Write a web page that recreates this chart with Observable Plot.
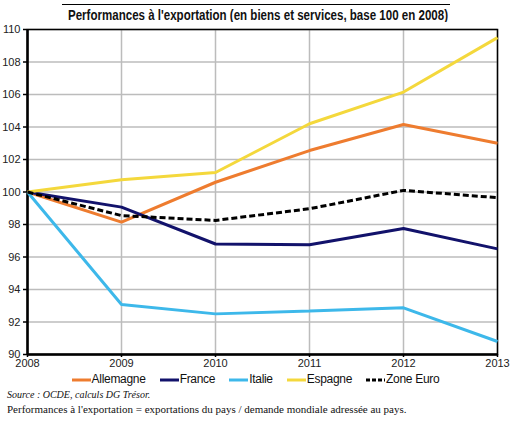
<!DOCTYPE html>
<html>
<head>
<meta charset="utf-8">
<script src="https://cdn.jsdelivr.net/npm/d3@7"></script>
<script src="https://cdn.jsdelivr.net/npm/@observablehq/plot@0.6"></script>
<style>
  html, body { margin: 0; padding: 0; background: #fff; }
  body { width: 511px; height: 427px; position: relative; overflow: hidden; font-family: "Liberation Sans", Arial, sans-serif; }
  #titlebar { position: absolute; left: 62px; top: 4px; width: 388px; height: 20px; border-top: 1px solid #000; }
  #title { position: absolute; left: 68px; top: 5px; white-space: nowrap; transform-origin: 0 0;
    font-family: "Liberation Sans", Arial, sans-serif; font-weight: bold; font-size: 14px; line-height: 20px; color: #111; }
  #chart { position: absolute; left: 0; top: 22px; }
  #legend { position: absolute; left: 0; top: 372px; width: 511px; text-align: center; font-size: 12px; color: #111; white-space: nowrap; letter-spacing: -0.3px; }
  #legend span.item { display: inline-block; margin: 0 7px; }
  #legend svg { vertical-align: middle; margin-right: 1px; }
  #source { position: absolute; left: 7px; top: 389px; font-family: "Liberation Serif", serif; font-style: italic; font-size: 10px; color: #111; }
  #note { position: absolute; left: 7px; top: 403px; font-family: "Liberation Serif", serif; font-size: 11px; color: #111; }
</style>
</head>
<body>
<div id="titlebar"></div>
<div id="title">Performances à l'exportation (en biens et services, base 100 en 2008)</div>
<div id="chart"></div>
<div id="legend"></div>
<div id="source">Source : OCDE, calculs DG Trésor.</div>
<div id="note">Performances à l'exportation = exportations du pays / demande mondiale adressée au pays.</div>
<script>
const years = [2008, 2009, 2010, 2011, 2012, 2013];
const allemagne = [100, 98.15, 100.6, 102.55, 104.15, 103.0];
const france = [100, 99.07, 96.8, 96.75, 97.75, 96.5];
const italie = [100, 93.08, 92.5, 92.67, 92.87, 90.8];
const espagne = [100, 100.75, 101.2, 104.2, 106.15, 109.5];
const zoneEuro = [100, 98.55, 98.25, 98.97, 100.1, 99.65];
const yTicks = [90, 92, 94, 96, 98, 100, 102, 104, 106, 108, 110];

const series = [
  {name: "Allemagne", values: allemagne, color: "#EE7C2F", dash: null},
  {name: "France", values: france, color: "#12126B", dash: null},
  {name: "Italie", values: italie, color: "#3DB8EA", dash: null},
  {name: "Espagne", values: espagne, color: "#F4D83C", dash: null},
  {name: "Zone Euro", values: zoneEuro, color: "#000000", dash: "6,3"}
];

// fit title to reference width
const t = document.getElementById("title");
const tw = t.getBoundingClientRect().width;
t.style.transform = `scaleX(${380 / tw})`;

const lineMarks = series.map(s => Plot.line(years.map((y, i) => ({year: y, value: s.values[i]})), {
  x: "year", y: "value", stroke: s.color, strokeWidth: 3,
  strokeDasharray: s.dash, strokeLinejoin: "miter", strokeLinecap: "butt"
}));

const chart = Plot.plot({
  width: 511,
  height: 350,
  marginTop: 7,
  marginBottom: 18,
  marginLeft: 27,
  marginRight: 14,
  style: {fontFamily: "Liberation Sans, Arial, sans-serif", fontSize: "11px", color: "#222", background: "#fff"},
  x: {domain: [2008, 2013], ticks: years, tickFormat: d => String(d), label: null},
  y: {domain: [90, 110], ticks: yTicks, label: null},
  marks: [
    Plot.gridX(years, {stroke: "#bcbcbc", strokeOpacity: 1, strokeWidth: 1.5}),
    Plot.gridY(yTicks, {stroke: "#bcbcbc", strokeOpacity: 1, strokeWidth: 1.5}),
    Plot.frame({stroke: "#000", strokeWidth: 1.5}),
    Plot.axisY(yTicks, {tickSize: 4, tickPadding: 3, stroke: "#000", strokeWidth: 1.5}),
    Plot.axisX(years, {tickSize: 3, tickPadding: 2, stroke: "#000", strokeWidth: 1.5, tickFormat: d => String(d)}),
    Plot.ruleX([2008], {stroke: "#000", strokeWidth: 2.5}),
    Plot.ruleY([90], {stroke: "#000", strokeWidth: 2.5}),
    ...lineMarks
  ]
});
document.getElementById("chart").appendChild(chart);

const legend = document.getElementById("legend");
series.forEach(s => {
  const item = document.createElement("span");
  item.className = "item";
  const dash = s.dash ? ` stroke-dasharray="4,2"` : "";
  item.innerHTML = `<svg width="19" height="6"><line x1="0" y1="3" x2="19" y2="3" stroke="${s.color}" stroke-width="3"${dash}/></svg>${s.name}`;
  legend.appendChild(item);
});
</script>
</body>
</html>
